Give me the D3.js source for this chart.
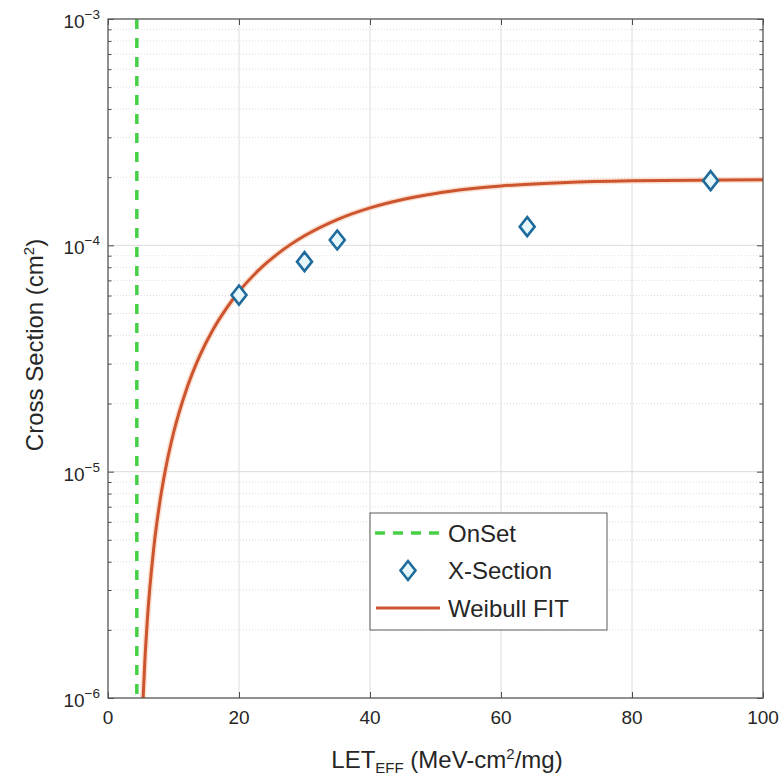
<!DOCTYPE html>
<html>
<head>
<meta charset="utf-8">
<script src="https://cdn.jsdelivr.net/npm/d3@7"></script>
<style>
  body { margin: 0; background: #fff; }
  text { font-family: "Liberation Sans", Arial, sans-serif; fill: #262626; }
</style>
</head>
<body>
<svg id="chart" width="782" height="777"></svg>
<script>
// Data
const onsetLET = 4.4;
const xsLET = [20, 30, 35, 64, 92];
const xsSigma = [6.03e-5, 8.47e-5, 1.056e-4, 1.209e-4, 1.931e-4];

const fitLET = [5.36, 5.6, 6, 7, 8, 9, 10, 12, 14, 16, 18, 20, 23, 26, 30, 35, 40, 45, 50, 55, 60, 70, 80, 90, 100];
const fitSigma = [1.0e-6, 1.41e-6, 2.2e-6, 4.64e-6, 7.62e-6, 1.104e-5, 1.482e-5, 2.32e-5, 3.25e-5, 4.23e-5,
                  5.23e-5, 6.25e-5, 7.77e-5, 9.22e-5, 1.102e-4, 1.30e-4, 1.464e-4, 1.595e-4, 1.696e-4,
                  1.772e-4, 1.828e-4, 1.896e-4, 1.928e-4, 1.941e-4, 1.947e-4];

const xTicks = [0, 20, 40, 60, 80, 100];
const yDecades = [1e-6, 1e-5, 1e-4, 1e-3];
const yExponents = ["\u22126", "\u22125", "\u22124", "\u22123"];
const legendLabels = ["OnSet", "X-Section", "Weibull FIT"];

const svg = d3.select("#chart");
const pL = 108, pR = 763, pT = 19, pB = 698;

const x = d3.scaleLinear().domain([0, 100]).range([pL, pR]);
const y = d3.scaleLog().domain([1e-6, 1e-3]).range([pB, pT]);

const minorY = y.ticks().filter(v => !yDecades.some(d => Math.abs(v / d - 1) < 1e-6));

svg.append("rect").attr("x", pL).attr("y", pT)
  .attr("width", pR - pL).attr("height", pB - pT).attr("fill", "#fff");

// grid
const grid = svg.append("g");
grid.selectAll("line.minor").data(minorY).enter().append("line")
  .attr("x1", pL).attr("x2", pR)
  .attr("y1", d => y(d)).attr("y2", d => y(d))
  .attr("stroke", "#dedede").attr("stroke-dasharray", "1,2");
grid.selectAll("line.hmaj").data(yDecades.slice(1, 3)).enter().append("line")
  .attr("x1", pL).attr("x2", pR)
  .attr("y1", d => y(d)).attr("y2", d => y(d))
  .attr("stroke", "#dcdcdc");
grid.selectAll("line.vmaj").data(xTicks.slice(1, 5)).enter().append("line")
  .attr("x1", d => x(d)).attr("x2", d => x(d))
  .attr("y1", pT).attr("y2", pB)
  .attr("stroke", "#dcdcdc");

// ticks pointing inward
const noLabel = () => "";
svg.append("g").attr("transform", `translate(0,${pB})`)
  .call(d3.axisBottom(x).tickValues(xTicks).tickSizeInner(-6).tickSizeOuter(0).tickFormat(noLabel));
svg.append("g").attr("transform", `translate(0,${pT})`)
  .call(d3.axisTop(x).tickValues(xTicks).tickSizeInner(-6).tickSizeOuter(0).tickFormat(noLabel));
svg.append("g").attr("transform", `translate(${pL},0)`)
  .call(d3.axisLeft(y).tickValues(yDecades).tickSizeInner(-6).tickSizeOuter(0).tickFormat(noLabel));
svg.append("g").attr("transform", `translate(${pL},0)`)
  .call(d3.axisLeft(y).tickValues(minorY).tickSizeInner(-3.5).tickSizeOuter(0).tickFormat(noLabel));
svg.append("g").attr("transform", `translate(${pR},0)`)
  .call(d3.axisRight(y).tickValues(yDecades).tickSizeInner(-6).tickSizeOuter(0).tickFormat(noLabel));
svg.append("g").attr("transform", `translate(${pR},0)`)
  .call(d3.axisRight(y).tickValues(minorY).tickSizeInner(-3.5).tickSizeOuter(0).tickFormat(noLabel));
svg.selectAll(".domain").remove();
svg.selectAll(".tick line").attr("stroke", "#4d4d4d");

// data layers
const plot = svg.append("g");
plot.append("clipPath").attr("id", "clip").append("rect")
  .attr("x", pL).attr("y", pT).attr("width", pR - pL).attr("height", pB - pT);

plot.append("line")
  .attr("x1", x(onsetLET)).attr("x2", x(onsetLET))
  .attr("y1", pT).attr("y2", pB)
  .attr("stroke", "#46d046").attr("stroke-width", 3.5).attr("stroke-dasharray", "10,9");

const fit = fitLET.map((d, i) => [d, fitSigma[i]]);
const line = d3.line().x(d => x(d[0])).y(d => y(d[1])).curve(d3.curveMonotoneX);
plot.append("path").datum(fit).attr("clip-path", "url(#clip)")
  .attr("d", line).attr("fill", "none")
  .attr("stroke", "#fbe0d0").attr("stroke-width", 6);
plot.append("path").datum(fit).attr("clip-path", "url(#clip)")
  .attr("d", line).attr("fill", "none")
  .attr("stroke", "#cc5530").attr("stroke-width", 3);

const diamond = "M0,-9.5L7.5,0L0,9.5L-7.5,0Z";
plot.selectAll("path.pt").data(xsLET).enter().append("path")
  .attr("transform", (d, i) => `translate(${x(d)},${y(xsSigma[i])})`)
  .attr("d", diamond)
  .attr("fill", "#e6f7fc").attr("stroke", "#1f6c9c").attr("stroke-width", 2.6);

// frame
svg.append("rect").attr("x", pL).attr("y", pT)
  .attr("width", pR - pL).attr("height", pB - pT)
  .attr("fill", "none").attr("stroke", "#555").attr("stroke-width", 1.3);

// tick labels
svg.selectAll("text.xl").data(xTicks).enter().append("text")
  .attr("x", d => x(d)).attr("y", 724)
  .attr("text-anchor", "middle").attr("font-size", 19)
  .text(d => d);

const yl = svg.selectAll("text.yl").data(yDecades).enter().append("text")
  .attr("x", 100).attr("y", d => y(d) + 9)
  .attr("text-anchor", "end").attr("font-size", 19);
yl.append("tspan").text("10");
yl.append("tspan").attr("dy", -9).attr("font-size", 13.5).text((d, i) => yExponents[i]);

// axis titles
const xt = svg.append("text").attr("x", 447).attr("y", 768)
  .attr("text-anchor", "middle").attr("font-size", 24);
xt.append("tspan").text("LET");
xt.append("tspan").attr("dy", 5).attr("font-size", 15).text("EFF");
xt.append("tspan").attr("dy", -5).text(" (MeV-cm");
xt.append("tspan").attr("dy", -9).attr("font-size", 15).text("2");
xt.append("tspan").attr("dy", 9).text("/mg)");

const yt = svg.append("text").attr("transform", "translate(43,345) rotate(-90)")
  .attr("text-anchor", "middle").attr("font-size", 24);
yt.append("tspan").text("Cross Section (cm");
yt.append("tspan").attr("dy", -9).attr("font-size", 15).text("2");
yt.append("tspan").attr("dy", 9).text(")");

// legend
const lg = svg.append("g");
lg.append("rect").attr("x", 370).attr("y", 513).attr("width", 237).attr("height", 117)
  .attr("fill", "#fff").attr("stroke", "#5a5a5a").attr("stroke-width", 1);
const rowY = d3.scalePoint().domain(legendLabels).range([533, 608]);

lg.append("line").attr("x1", 375).attr("x2", 440)
  .attr("y1", rowY("OnSet")).attr("y2", rowY("OnSet"))
  .attr("stroke", "#46d046").attr("stroke-width", 3.5).attr("stroke-dasharray", "10,8");
lg.append("path").attr("transform", `translate(408,${rowY("X-Section")})`)
  .attr("d", diamond)
  .attr("fill", "#e6f7fc").attr("stroke", "#1f6c9c").attr("stroke-width", 2.6);
lg.append("line").attr("x1", 376).attr("x2", 440)
  .attr("y1", rowY("Weibull FIT")).attr("y2", rowY("Weibull FIT"))
  .attr("stroke", "#cc5530").attr("stroke-width", 3);

lg.selectAll("text").data(legendLabels).enter().append("text")
  .attr("x", 448).attr("y", d => rowY(d) + 8.5)
  .attr("font-size", 24)
  .text(d => d);
</script>
</body>
</html>
